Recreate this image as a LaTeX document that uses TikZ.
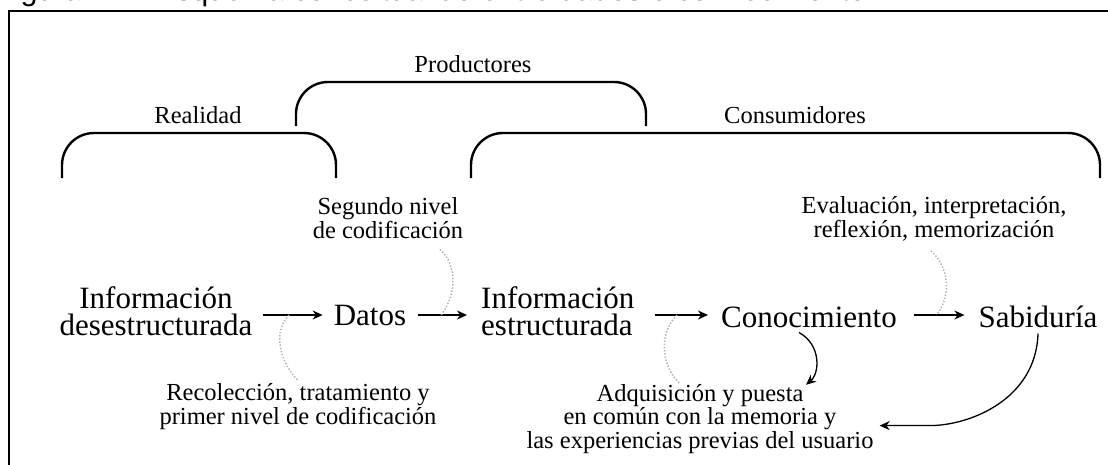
\documentclass[tikz,border=0pt]{standalone}
\usepackage{fontspec}
\setmainfont{Liberation Serif}
\newfontfamily\capfont{Liberation Sans}
\usetikzlibrary{arrows.meta}

\begin{document}
\begin{tikzpicture}[x=1pt, y=-1pt,
    big/.style={font=\fontsize{31}{27}\selectfont, inner sep=0pt, align=center},
    small/.style={font=\fontsize{24.5}{23.5}\selectfont, inner sep=0pt, align=center},
    bracket/.style={line width=2.4pt, rounded corners=32pt},
    flow/.style={-{Stealth[length=10pt, width=9pt]}, line width=1.5pt},
    curvearrow/.style={-{Stealth[length=10pt, width=9pt]}, line width=1.3pt},
    hint/.style={gray!60, line width=1.5pt, dash pattern=on 1.4pt off 1.8pt}]
    \useasboundingbox (0,0) rectangle (1108,464);

    % Caption, cut by the page edge
    \node[anchor=base west, inner sep=0pt, font=\capfont\fontsize{30.5}{30}\selectfont] (caption) at (-5,0)
        {Figura 11 – Esquema conceitual de entre dados e conhecimento};
    % Frame
    \draw[line width=2pt] (9,470) -- (9,11) -- (1115,11);

    % Brackets
    \draw[bracket] (62,178) -- (62,133) -- (336,133) -- (336,178);
    \draw[bracket] (296,126) -- (296,82) -- (646,82) -- (646,126);
    \draw[bracket] (471,178) -- (471,133) -- (1100,133) -- (1100,178);
    \node[small, anchor=base] (realidad) at (198,123) {Realidad};
    \node[small, anchor=base] (productores) at (473,72) {Productores};
    \node[small, anchor=base] (consumidores) at (795,123) {Consumidores};

    % Main chain (base = last line)
    \node[big, anchor=base] (unstruct) at (156,335) {Información\\desestructurada};
    \node[big, anchor=base] (datos) at (370,325) {Datos};
    \node[big, anchor=base west, align=left] (struct) at (481,335) {Información\\estructurada};
    \node[big, anchor=base] (conoc) at (809,327) {Conocimiento};
    \node[big, anchor=base] (sabid) at (1038,327) {Sabiduría};

    \draw[flow] ([xshift=10pt]unstruct.east |- datos.center) -- coordinate[pos=0.44] (m1) ([xshift=-11pt]datos.west);
    \draw[flow] ([xshift=12pt]datos.east) -- coordinate[pos=0.47] (m2) ([xshift=-14pt]struct.west |- datos.center);
    \draw[flow] ([xshift=20pt]struct.east |- datos.center) -- coordinate[pos=0.42] (m3) ([xshift=-13pt]conoc.west |- datos.center);
    \draw[flow] ([xshift=17pt]conoc.east |- datos.center) -- coordinate[pos=0.45] (m4) ([xshift=-14pt]sabid.west |- datos.center);

    % Processes
    \node[small, anchor=base] (segundo) at (388,238) {Segundo nivel\\de codificación};
    \node[small, anchor=base] (evalua) at (934,237) {Evaluación, interpretación,\\reflexión, memorización};
    \node[small, anchor=base] (recol) at (298,424) {Recolección, tratamiento y\\primer nivel de codificación};
    \node[small, anchor=base] (adquis) at (700,448) {Adquisición y puesta\\en común con la memoria y\\las experiencias previas del usuario};

    \draw[hint] ([shift={(52pt,-11pt)}]segundo.south) .. controls +(18pt,-16pt) and +(15pt,20pt) .. (m2);
    \draw[hint] ([shift={(-3pt,-10pt)}]evalua.south) .. controls +(18pt,-16pt) and +(15pt,20pt) .. (m4);
    \draw[hint] (m1) .. controls +(-18pt,-18pt) and +(-16pt,15pt) .. ([yshift=3pt]recol.north);
    \draw[hint] (m3) .. controls +(-20pt,-20pt) and +(-16pt,15pt) .. ([shift={(-21pt,1pt)}]adquis.north);

    \draw[curvearrow] ([shift={(-10pt,-5pt)}]conoc.south) .. controls +(22pt,-12pt) and +(14pt,12pt) .. ([shift={(106pt,-1pt)}]adquis.north);
    \draw[curvearrow] ([yshift=-6pt]sabid.south) .. controls +(-2pt,-66pt) and +(40pt,0pt) .. ([shift={(56pt,-7pt)}]adquis.east) -- ([shift={(6pt,-7pt)}]adquis.east);
\end{tikzpicture}
\end{document}
